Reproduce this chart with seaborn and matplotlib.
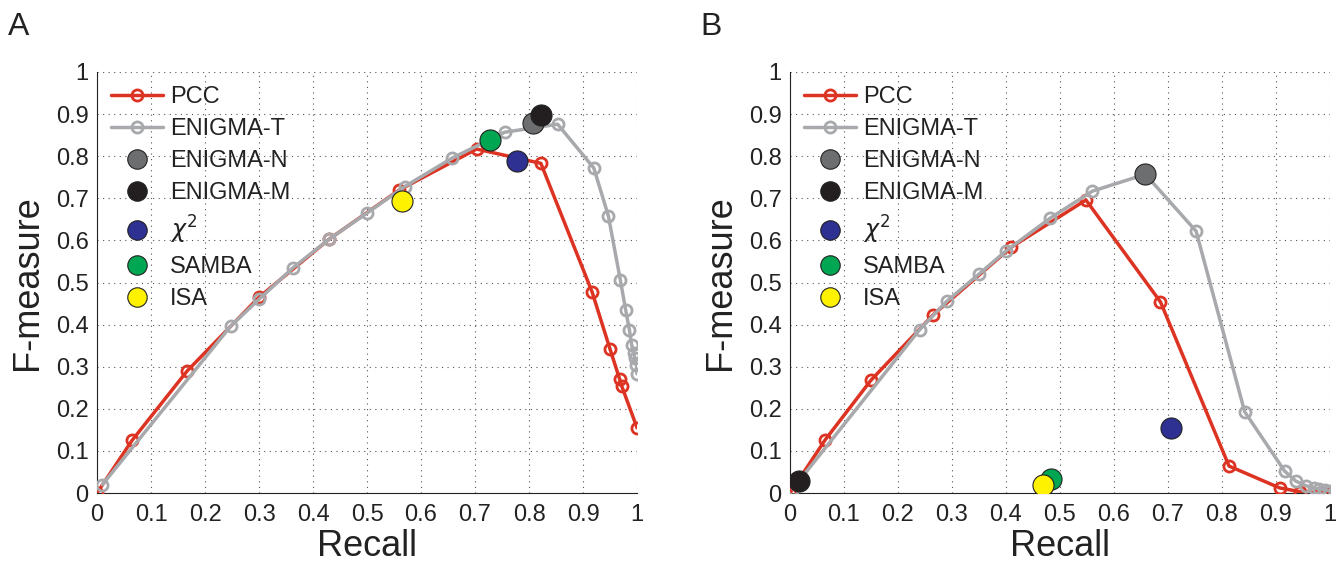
import numpy as np
import pandas as pd
import matplotlib
matplotlib.use("Agg")
import matplotlib.pyplot as plt
import seaborn as sns
from matplotlib.lines import Line2D

# ---- panel A data ----
a_pcc_recall = [0.0, 0.065, 0.167, 0.30, 0.43, 0.56, 0.703, 0.822, 0.917, 0.95, 0.968, 0.972, 1.0]
a_pcc_f = [0.0, 0.125, 0.29, 0.465, 0.603, 0.72, 0.817, 0.783, 0.477, 0.342, 0.27, 0.253, 0.155]
a_enit_recall = [0.01, 0.248, 0.30, 0.363, 0.43, 0.50, 0.57, 0.657, 0.755, 0.853, 0.92, 0.947,
                 0.969, 0.979, 0.986, 0.99, 0.994, 0.996, 0.999, 1.0]
a_enit_f = [0.02, 0.397, 0.46, 0.535, 0.603, 0.665, 0.728, 0.795, 0.857, 0.876, 0.772, 0.658,
            0.507, 0.435, 0.387, 0.352, 0.333, 0.32, 0.305, 0.283]
a_points = {"ENIGMA-N": (0.807, 0.879), "ENIGMA-M": (0.822, 0.898), "χ²": (0.778, 0.789),
            "SAMBA": (0.728, 0.838), "ISA": (0.565, 0.694)}

# ---- panel B data ----
b_pcc_recall = [0.0, 0.065, 0.15, 0.265, 0.41, 0.548, 0.686, 0.813, 0.907, 0.945, 0.982, 0.995]
b_pcc_f = [0.0, 0.126, 0.268, 0.423, 0.584, 0.696, 0.454, 0.064, 0.012, 0.003, 0.0, 0.0]
b_enit_recall = [0.005, 0.24, 0.29, 0.35, 0.40, 0.482, 0.56, 0.658, 0.752, 0.842, 0.916, 0.937,
                 0.956, 0.97, 0.98, 0.99, 1.0]
b_enit_f = [0.01, 0.388, 0.455, 0.52, 0.575, 0.653, 0.717, 0.757, 0.622, 0.193, 0.052, 0.028,
            0.017, 0.012, 0.01, 0.008, 0.005]
b_points = {"ENIGMA-N": (0.658, 0.757), "ENIGMA-M": (0.016, 0.029), "χ²": (0.706, 0.155),
            "SAMBA": (0.484, 0.033), "ISA": (0.469, 0.02)}

ticks = np.round(np.arange(0, 1.01, 0.1), 1)
tick_labels = ["0"] + [f"0.{i}" for i in range(1, 10)] + ["1"]

RED = "#dd3322"
GRAY = "#a7a9ac"
point_colors = {"ENIGMA-N": "#6d6e70", "ENIGMA-M": "#231f20", "χ²": "#2e3192",
                "SAMBA": "#00a651", "ISA": "#fff200"}

sns.set_style("white")
plt.rcParams['font.family'] = ['Liberation Sans', 'DejaVu Sans']

fig = plt.figure(figsize=(13.41, 5.63), dpi=100)
ax_a = fig.add_axes([97 / 1341, 70 / 563, 540 / 1341, 421 / 563])
ax_b = fig.add_axes([790 / 1341, 70 / 563, 540 / 1341, 421 / 563])


def draw_panel(ax, pcc_r, pcc_f, enit_r, enit_f, points):
    line_kw = dict(marker="o", markersize=8, markerfacecolor="none", markeredgewidth=2,
                   linewidth=2.5, sort=False, legend=False)
    sns.lineplot(x=pcc_r, y=pcc_f, color=RED, markeredgecolor=RED, ax=ax, zorder=3, **line_kw)
    sns.lineplot(x=enit_r, y=enit_f, color=GRAY, markeredgecolor=GRAY, ax=ax, zorder=4, **line_kw)
    for name, (r, f) in points.items():
        sns.scatterplot(x=[r], y=[f], color=point_colors[name], s=230, edgecolor="#222222",
                        linewidth=0.8, ax=ax, zorder=5, legend=False)

    ax.set_xlim(0, 1)
    ax.set_ylim(0, 1)
    ax.set_xticks(ticks)
    ax.set_yticks(ticks)
    ax.set_xticklabels(tick_labels, fontsize=17)
    ax.set_yticklabels(tick_labels, fontsize=17)
    ax.tick_params(direction="in", length=5, width=0.8, colors="#222222", pad=6)
    ax.tick_params(axis="x", pad=8)
    ax.grid(True, linestyle=(0, (1, 4)), color="#555555", linewidth=0.8)
    for side in ["top", "right"]:
        ax.spines[side].set_visible(False)
    for side in ["left", "bottom"]:
        ax.spines[side].set_color("#222222")
        ax.spines[side].set_linewidth(0.8)
    ax.set_xlabel("Recall", fontsize=26, labelpad=2, color="#222222")
    ax.set_ylabel("F-measure", fontsize=26, labelpad=8, color="#222222")

    handles = [
        Line2D([], [], color=RED, lw=2.5, marker="o", markersize=8, markerfacecolor="none",
               markeredgewidth=2, markeredgecolor=RED),
        Line2D([], [], color=GRAY, lw=2.5, marker="o", markersize=8, markerfacecolor="none",
               markeredgewidth=2, markeredgecolor=GRAY),
    ]
    labels = ["PCC", "ENIGMA-T"]
    for name in ["ENIGMA-N", "ENIGMA-M", "χ²", "SAMBA", "ISA"]:
        handles.append(Line2D([], [], linestyle="none", marker="o", markersize=14,
                              markerfacecolor=point_colors[name], markeredgecolor="#222222",
                              markeredgewidth=0.8))
        labels.append(name if name != "χ²" else r"$\chi^2$")
    leg = ax.legend(handles, labels, loc="upper left", bbox_to_anchor=(0.0, 1.0), frameon=False,
                    fontsize=17, handlelength=2.2, handletextpad=0.3, labelspacing=0.42,
                    borderaxespad=0.2)
    for t in leg.get_texts():
        t.set_color("#222222")


draw_panel(ax_a, a_pcc_recall, a_pcc_f, a_enit_recall, a_enit_f, a_points)
draw_panel(ax_b, b_pcc_recall, b_pcc_f, b_enit_recall, b_enit_f, b_points)

fig.text(8 / 1341, 1 - 12 / 563, "A", fontsize=23, va="top", ha="left", color="#222222")
fig.text(700 / 1341, 1 - 12 / 563, "B", fontsize=23, va="top", ha="left", color="#222222")

fig.savefig("out.png", dpi=100)
